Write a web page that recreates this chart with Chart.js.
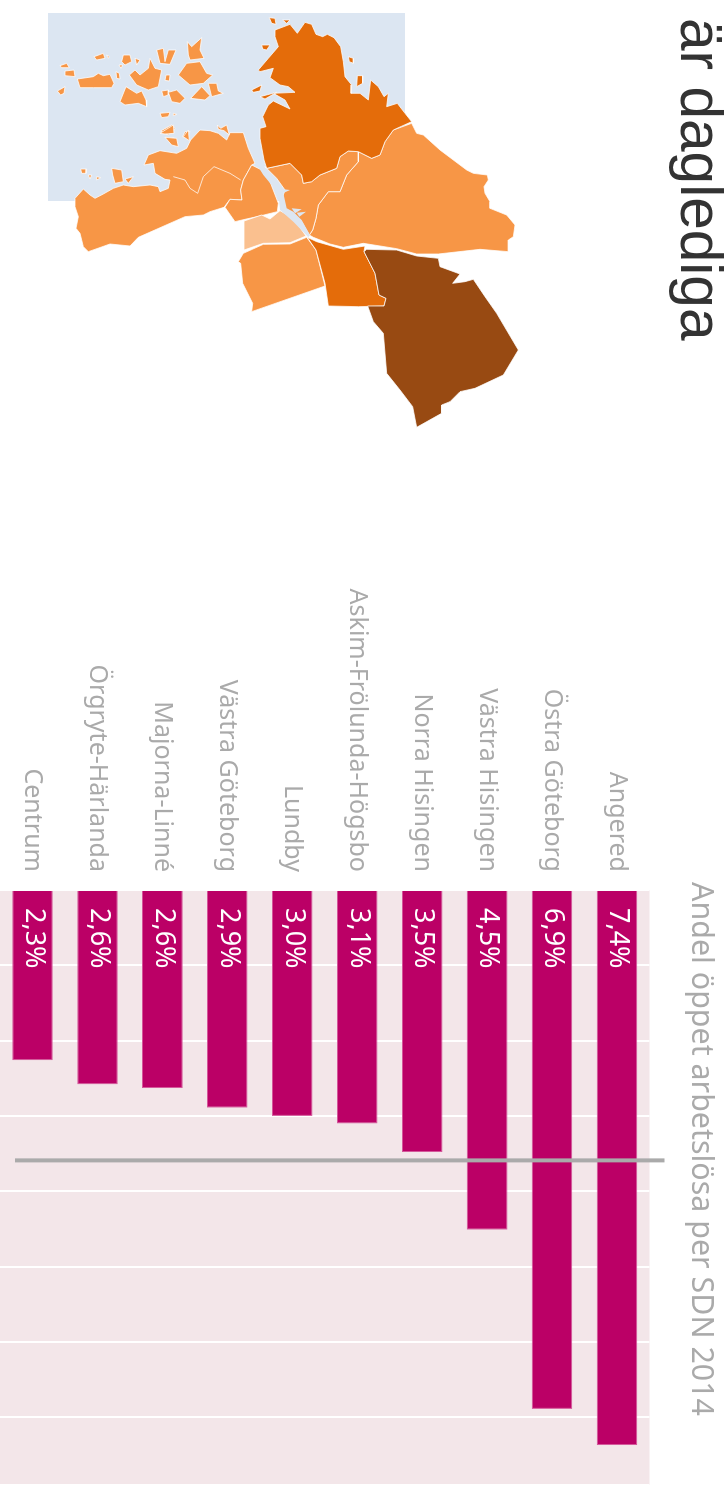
<!DOCTYPE html>
<html><head><meta charset="utf-8">
<style>
html,body{margin:0;padding:0;background:#fff;width:727px;height:1485px;overflow:hidden}
#mapWrap{position:absolute;left:0;top:0;width:727px;height:500px}
#barWrap{position:absolute;left:0;top:0;width:1485px;height:727px;transform-origin:0 0;transform:translate(727px,0) rotate(90deg)}
</style>
<script src="https://cdn.jsdelivr.net/npm/chart.js@4"></script>
</head><body>
<div id="mapWrap"><canvas id="map" width="727" height="500"></canvas></div>
<div id="barWrap"><canvas id="bars" width="1485" height="727"></canvas></div>
<script>
const categories=["Angered","Östra Göteborg","Västra Hisingen","Norra Hisingen","Askim-Frölunda-Högsbo","Lundby","Västra Göteborg","Majorna-Linné","Örgryte-Härlanda","Centrum"];
const values=[7.37,6.89,4.51,3.48,3.1,3.0,2.89,2.63,2.58,2.26];
const valueLabels=["7,4%","6,9%","4,5%","3,5%","3,1%","3,0%","2,9%","2,6%","2,6%","2,3%"];
const average=3.59;
const axisMax=7.9;
const mainTitle="är dagledi"+"ga";
const subTitle="Andel öppet arbetslösa per SDN 2014";

const SEA="#dce6f2",MID="#f79646",DARK="#e46c0a",BROWN="#984a12",LIGHT="#fac08f";
// map outlines: [colour, originX, originY, traced points at 3x]
const Z1=[40,5],Z2=[240,5],Z3=[70,120],Z4=[230,150];
const mapShapes=[
[SEA,[0,0],[48*3,13*3,405*3,13*3,405*3,201*3,48*3,201*3]],
[MID,Z3,[15,235,40,207,60,225,75,235,100,222,130,205,160,195,190,200,240,195,265,200,270,215,295,205,300,180,285,178,255,160,250,130,222,135,235,105,270,92,320,100,350,85,362,60,390,30,420,32,445,40,470,60,480,38,520,38,535,85,555,130,545,135,520,180,512,210,516,240,480,238,462,262,420,275,400,285,345,290,205,352,180,378,120,372,55,395,40,380,30,340,18,325,25,290,15,260]],
[MID,Z3,[545,135,575,150,600,185,625,250,622,275,570,288,525,298,495,305,465,262,480,238,516,240,512,210,520,180]],
[MID,Z4,[545,-80,560,-50,580,-45,630,0,710,60,730,70,772,75,775,90,762,110,765,130,780,155,780,175,830,195,855,225,850,260,835,270,835,305,750,298,625,312,560,312,500,296,400,280,340,292,300,282,250,262,238,255,248,240,258,205,265,165,295,125,330,125,350,75,385,35,385,5,425,25,450,15,465,-25,490,-60]],
[MID,Z4,[110,55,180,40,215,75,220,100,245,95,270,75,320,55,330,20,355,3,385,5,385,35,350,75,330,125,295,125,265,165,258,205,248,240,238,255,215,215,190,195,150,165,165,120,140,85,105,50]],
[DARK,Z2,[105,75,150,58,172,85,195,52,215,58,228,88,248,95,262,88,282,98,302,125,310,170,315,215,335,240,333,265,360,265,385,285,392,225,415,245,432,275,445,265,440,305,472,295,495,325,515,350,460,375,435,410,420,450,395,460,355,440,325,438,300,455,290,490,240,510,215,530,190,535,185,510,150,475,80,490,72,465,60,400,60,370,78,365,68,335,85,300,100,288,150,312,135,285,100,265,165,262,145,245,120,240,90,218,100,190,60,200,55,195,85,160,115,125,105,95]],
[LIGHT,Z4,[42,213,95,195,120,207,150,182,190,205,228,258,180,278,100,280,42,300]],
[MID,Z4,[40,310,100,283,180,282,230,262,258,300,285,408,65,485,68,460,38,400,32,340,25,335]],
[DARK,Z4,[232,262,260,275,340,298,405,288,402,305,435,370,447,435,468,445,462,468,385,470,295,468,285,400,258,300]],
[BROWN,Z4,[410,298,500,300,560,318,625,325,630,350,690,372,668,400,705,395,730,388,765,440,800,490,865,600,820,675,735,715,690,725,660,755,635,765,635,790,560,832,548,770,510,720,470,670,460,550,430,515,413,468,462,468,468,445,447,435,435,370,402,305]],
[SEA,Z4,[60,-35,75,35,100,75,145,130,150,180,190,215,235,262,240,255,215,210,190,185,170,175,160,130,130,85,105,55,85,20,80,-30]],
[SEA,Z4,[160,118,180,120,162,128]],[SEA,Z4,[185,175,215,178,195,190]],[SEA,Z4,[200,188,228,185,208,200]],
[DARK,Z2,[88,38,105,40,108,58,95,55]],[DARK,Z2,[128,45,150,45,140,55]],[DARK,Z2,[65,120,90,120,80,135,68,132]],[DARK,Z2,[325,155,340,160,340,175,328,170]],[DARK,Z2,[352,212,368,212,368,235,350,245]],[DARK,Z2,[35,255,65,240,60,258,40,262]],[DARK,Z2,[60,275,110,262,75,282]],
[MID,Z1,[52,258,75,245,72,265,62,270]],[MID,Z1,[60,182,80,175,88,188,65,188]],[MID,Z1,[75,198,102,195,105,215,75,212]],
[MID,Z1,[112,222,160,215,175,205,190,212,210,208,222,235,215,248,160,248,120,248]],
[MID,Z1,[162,155,190,145,195,160,170,165]],[MID,Z1,[200,150,208,155,205,160]],[MID,Z1,[250,150,270,150,275,170,255,180,245,170]],[MID,Z1,[285,160,300,165,290,180]],[MID,Z1,[237,180,248,180,243,190]],[MID,Z1,[228,200,238,205,240,222,230,220]],
[MID,Z1,[268,210,285,195,300,210,325,190,330,160,345,190,365,195,355,245,325,255,290,240]],
[MID,Z1,[240,290,258,245,290,265,305,258,318,285,320,305,295,295,255,300]],
[MID,Z1,[350,135,370,130,375,170,385,135,408,135,390,178,360,175]],
[MID,Z1,[442,110,455,125,485,98,480,135,492,160,450,165,445,150]],
[MID,Z1,[415,210,440,175,480,170,500,205,518,210,490,235,450,240]],
[MID,Z1,[378,210,390,210,388,228,375,226]],[MID,Z1,[505,235,530,235,535,258,550,265,515,275]],[MID,Z1,[452,280,485,245,510,272,495,285]],
[MID,Z1,[365,258,385,255,385,270,370,275]],[MID,Z1,[385,262,410,255,435,280,420,295,395,290]],
[MID,Z1,[360,325,390,322,385,335,365,338]],[MID,Z1,[400,325,410,328,400,332]],[MID,Z1,[362,378,395,360,405,370,385,390]],[MID,Z1,[435,380,450,380,440,400,428,395]],[MID,Z1,[378,398,400,398,392,406]],
[MID,Z1,[122,492,140,492,138,505,125,505]],[MID,Z1,[145,510,155,510,150,522]],[MID,Z1,[170,515,182,518,170,525]],[MID,Z1,[215,490,245,495,250,530,225,535,218,510]],[MID,Z1,[255,522,280,515,265,535]],
[MID,Z3,[270,40,310,15,312,40,285,42]],[MID,Z3,[285,52,320,55,325,80,305,75]],[MID,Z3,[340,50,355,30,358,62]],[MID,Z3,[442,15,452,25,470,15,478,45,462,32,445,28]]
];
// inner district boundary inside the west shape
const innerBorder=[Z3,[310,170,345,180,360,205,383,220,400,170,432,140,480,160,512,180]];

function toPts(o,p){const r=[];for(let i=0;i<p.length;i+=2)r.push({x:o[0]+p[i]/3,y:o[1]+p[i+1]/3});return r;}
const mapSets=mapShapes.map(([c,o,p],i)=>{const pts=toPts(o,p);pts.push(pts[0]);
  return {data:pts,showLine:true,fill:'shape',backgroundColor:c,borderColor:c===SEA?'rgba(0,0,0,0)':'rgba(255,255,255,0.75)',borderWidth:c===SEA?0:1,pointRadius:0,tension:0,clip:false,order:mapShapes.length-i};});
mapSets.push({data:toPts(innerBorder[0],innerBorder[1]),showLine:true,fill:false,borderColor:'rgba(255,255,255,0.75)',borderWidth:1,pointRadius:0,clip:false,order:-1});

new Chart(document.getElementById('map'),{type:'scatter',data:{datasets:mapSets},options:{
  responsive:false,animation:false,devicePixelRatio:1,layout:{padding:0},
  plugins:{legend:{display:false},tooltip:{enabled:false}},
  scales:{x:{type:'linear',display:false,min:0,max:727},y:{type:'linear',display:false,reverse:true,min:0,max:500}}
}});

const decor={id:'decor',
 beforeDraw(c){const a=c.chartArea,x=c.ctx;x.save();x.fillStyle='#f3e6e9';x.fillRect(a.left,a.top,a.right-a.left,a.bottom-a.top);x.restore();},
 afterDatasetsDraw(c){const a=c.chartArea,x=c.ctx,sx=c.scales.x,m=c.getDatasetMeta(0);x.save();
  x.fillStyle='#fff';x.font='27px "Noto Sans"';x.textBaseline='middle';x.textAlign='left';
  m.data.forEach((b,i)=>x.fillText(valueLabels[i],sx.getPixelForValue(0)+18,b.y-1));
  const px=sx.getPixelForValue(average);x.strokeStyle='#aaaaaa';x.lineWidth=4;x.beginPath();x.moveTo(px,a.top-15);x.lineTo(px,a.bottom-15);x.stroke();
  x.textBaseline='alphabetic';x.fillStyle='#aaaaaa';x.font='30.4px "Noto Sans"';x.fillText(subTitle,882,35);
  x.fillStyle='#333333';x.font='58.6px "Liberation Sans"';x.fillText(mainTitle,18,46);
  x.restore();}
};
new Chart(document.getElementById('bars'),{type:'bar',plugins:[decor],
 data:{labels:categories,datasets:[{data:values,backgroundColor:'#bb0066',borderColor:'#d4559a',borderWidth:1,barPercentage:0.625,categoryPercentage:1}]},
 options:{indexAxis:'y',responsive:false,animation:false,devicePixelRatio:1,layout:{padding:{top:77.5}},
  plugins:{legend:{display:false},tooltip:{enabled:false}},
  scales:{
   x:{min:0,max:axisMax,ticks:{display:false,stepSize:1},border:{display:false},grid:{color:'#ffffff',lineWidth:2,drawTicks:false},afterFit(s){s.height=0;}},
   y:{ticks:{color:'#aaaaaa',font:{family:'"Noto Sans"',size:25},padding:18},grid:{display:false,drawTicks:false},border:{display:false},afterFit(s){s.width=890;s.paddingTop=0;s.paddingBottom=0;}}
  }}});
</script>
</body></html>
